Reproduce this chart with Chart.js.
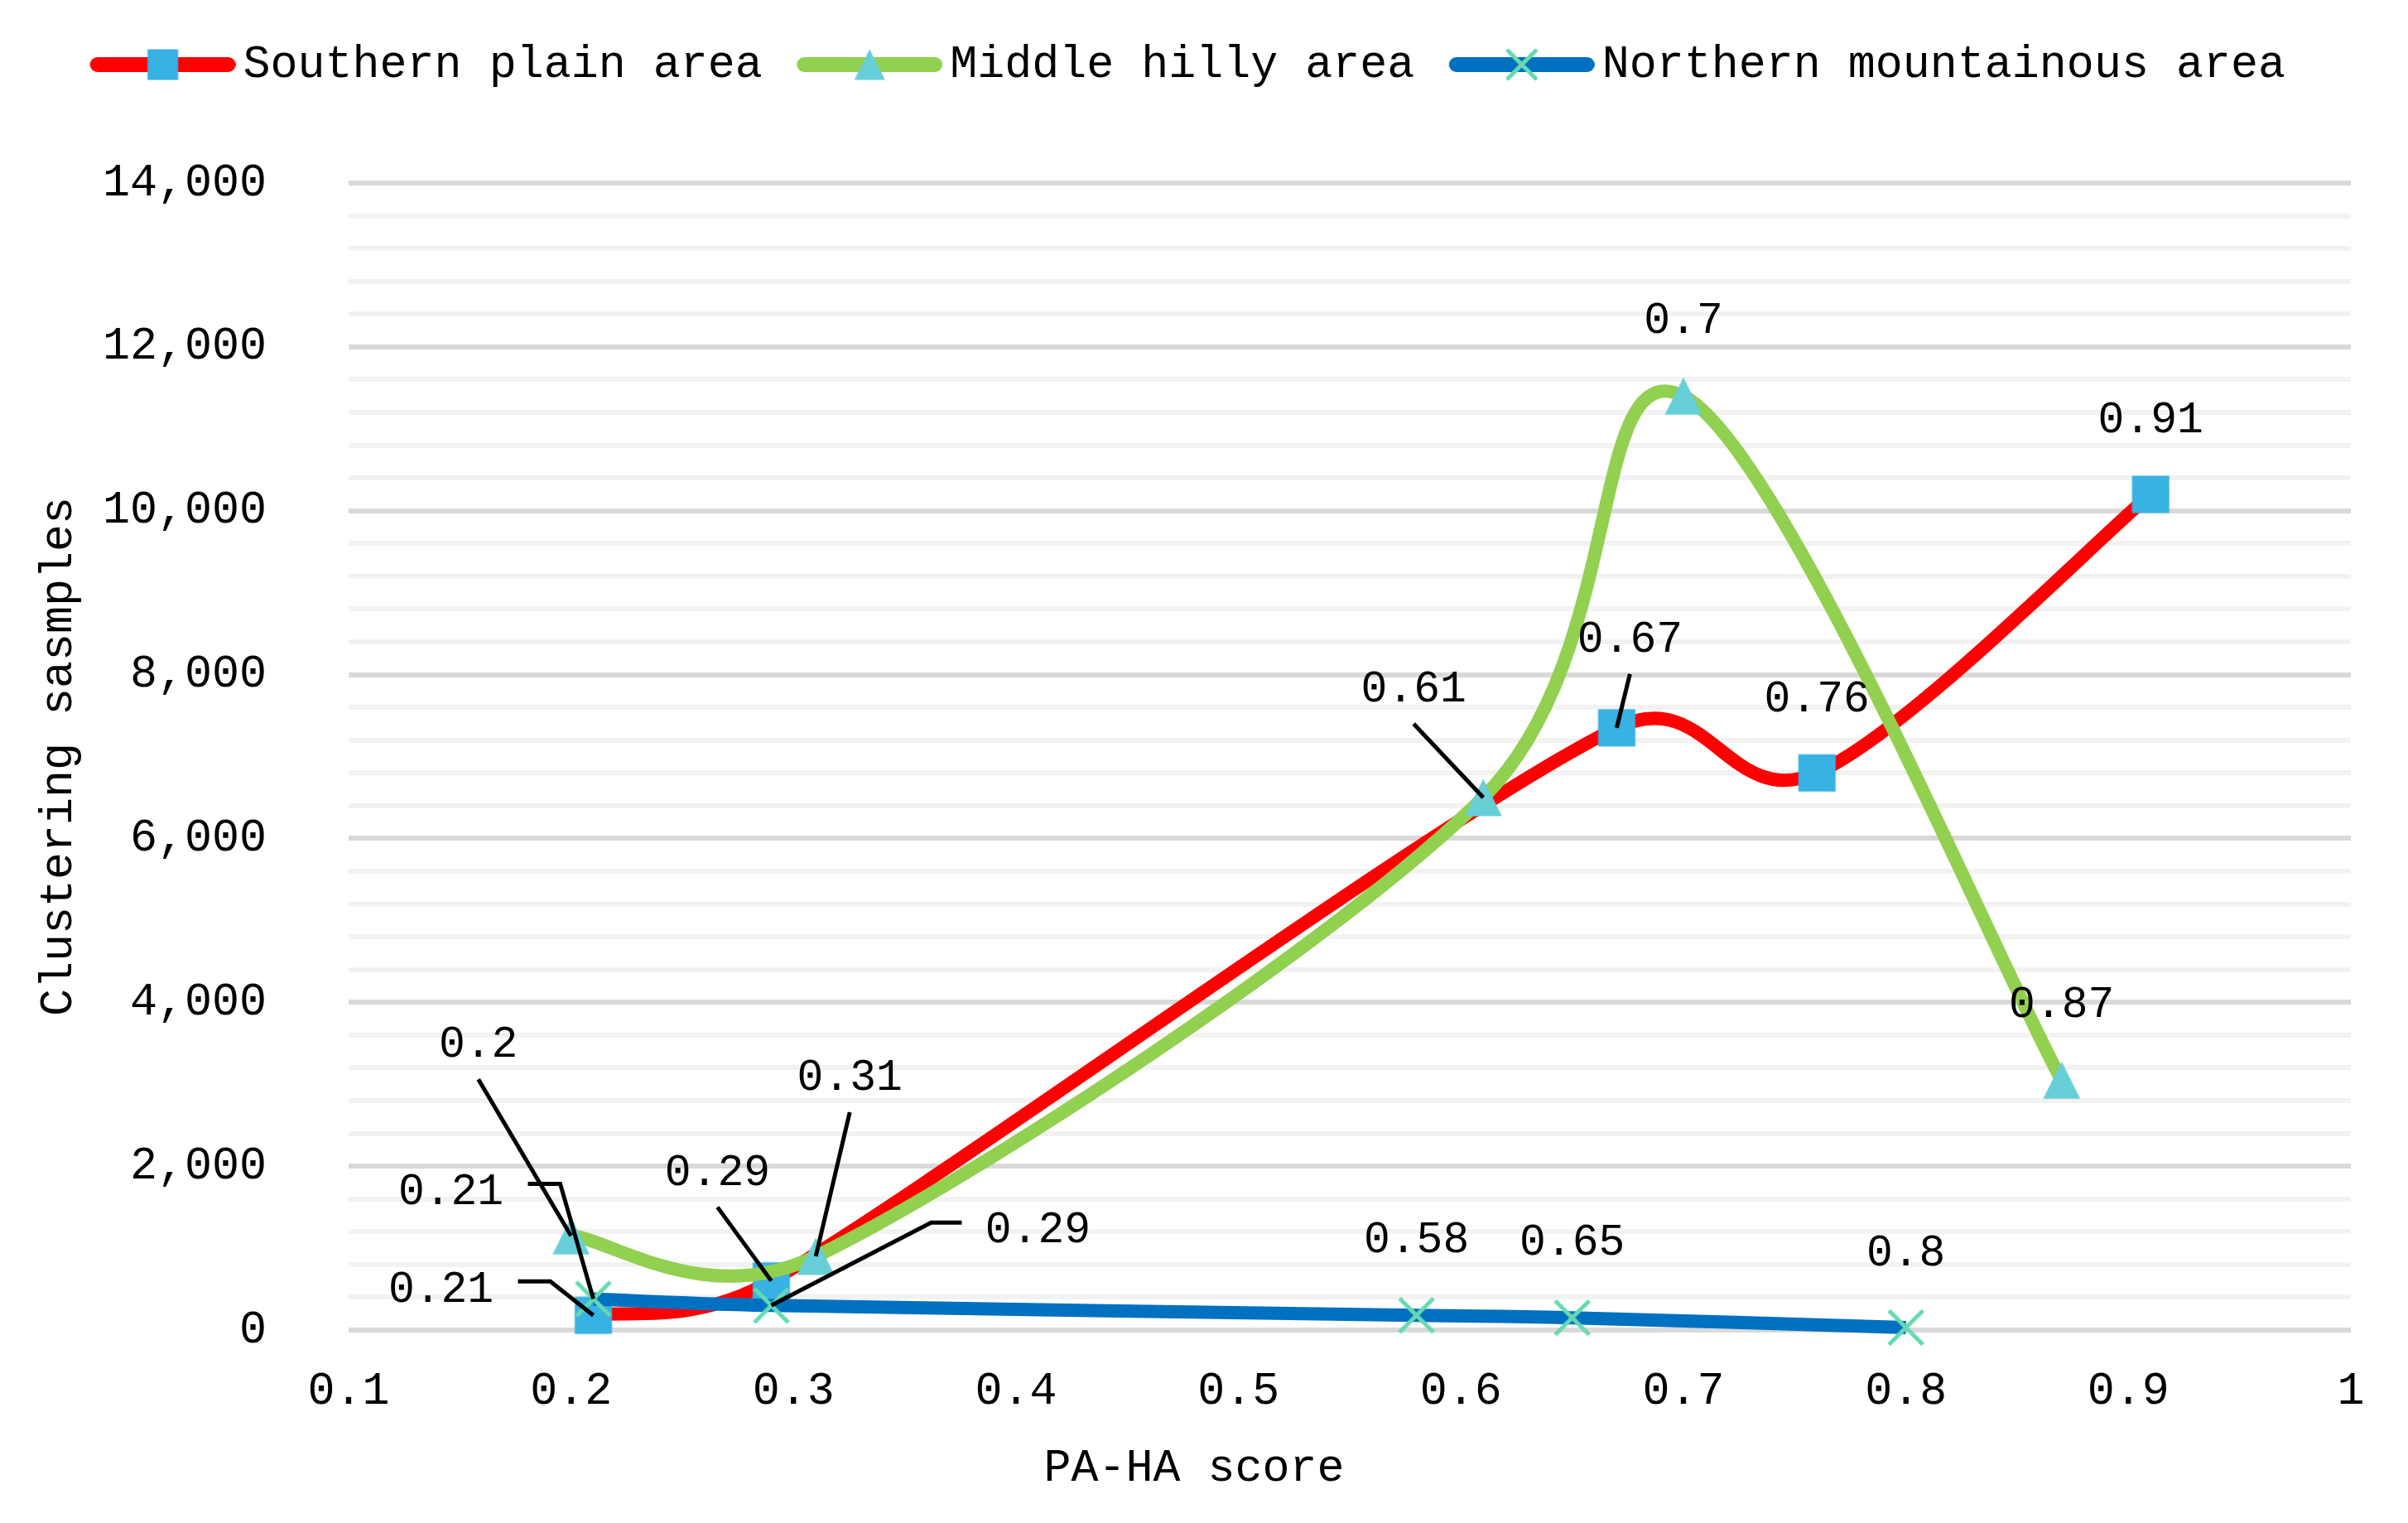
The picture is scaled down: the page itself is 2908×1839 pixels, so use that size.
<!DOCTYPE html>
<html lang="en">
<head>
<meta charset="UTF-8">
<title>PA-HA score vs clustering samples</title>
<script src="https://cdn.jsdelivr.net/npm/chart.js"></script>
<style>
  html, body { margin: 0; padding: 0; background: #fff; }
  #wrap { width: 2908px; height: 1839px; }
</style>
</head>
<body>
<div id="wrap"><canvas id="chart" width="2908" height="1839"></canvas></div>
<script>
  // data
  const seriesNames = ['Southern plain area', 'Middle hilly area', 'Northern mountainous area'];
  const southernX = [0.21, 0.29, 0.67, 0.76, 0.91];
  const southernY = [180, 600, 7350, 6800, 10200];
  const middleX = [0.2, 0.31, 0.61, 0.7, 0.87];
  const middleY = [1150, 900, 6500, 11400, 3050];
  const northernX = [0.21, 0.29, 0.58, 0.65, 0.8];
  const northernY = [380, 300, 180, 150, 30];

  const xTitle = 'PA-HA score';
  const yTitle = 'Clustering sasmples';

  // styles
  const FONT = "'Liberation Mono', 'DejaVu Sans Mono', monospace";
  const lineColors = ['#FF0000', '#92D050', '#0070C0'];
  const markerColors = ['#38B1E3', '#67CFD8', '#66D9B2'];
  const markerKinds = ['square', 'triangle', 'cross'];

  // where each value label sits relative to its point (px) and how its leader is drawn
  const southernLabelPos = [[-184, -33, 'right'], [-65, -133, 'down'], [16, -109, 'down'], [0, -91, ''], [0, -92, '']];
  const middleLabelPos = [[-112, -233, 'down'], [41, -218, 'down'], [-84, -133, 'down'], [0, -93, ''], [0, -93, '']];
  const northernLabelPos = [[-172, -131, 'right'], [322, -93, 'left'], [0, -93, ''], [0, -93, ''], [0, -92, '']];

  const seriesX = [southernX, middleX, northernX];
  const seriesY = [southernY, middleY, northernY];
  const labelPos = [southernLabelPos, middleLabelPos, northernLabelPos];

  function makeCanvas(w, h) {
    const c = document.createElement('canvas');
    c.width = w; c.height = h;
    return c;
  }

  function drawMarker(ctx, kind, cx, cy, size, color) {
    ctx.save();
    if (kind === 'square') {
      ctx.fillStyle = color;
      ctx.fillRect(cx - size / 2, cy - size / 2, size, size);
    } else if (kind === 'triangle') {
      ctx.fillStyle = color;
      ctx.beginPath();
      ctx.moveTo(cx, cy - size / 2);
      ctx.lineTo(cx + size / 2, cy + size / 2);
      ctx.lineTo(cx - size / 2, cy + size / 2);
      ctx.closePath();
      ctx.fill();
    } else {
      const h = size / 2 - 2;
      ctx.strokeStyle = color;
      ctx.lineWidth = 5;
      ctx.beginPath();
      ctx.moveTo(cx - h, cy - h); ctx.lineTo(cx + h, cy + h);
      ctx.moveTo(cx + h, cy - h); ctx.lineTo(cx - h, cy + h);
      ctx.stroke();
    }
    ctx.restore();
  }

  // point images for the plot
  const markerImages = markerKinds.map((k, i) => {
    const c = makeCanvas(48, 48);
    drawMarker(c.getContext('2d'), k, 24, 24, 45, markerColors[i]);
    return c;
  });

  // legend icons: line with the marker on it (left part left transparent for spacing)
  const legendIcons = markerKinds.map((k, i) => {
    const c = makeCanvas(224, 44);
    const ctx = c.getContext('2d');
    ctx.strokeStyle = lineColors[i];
    ctx.lineWidth = 18;
    ctx.lineCap = 'round';
    ctx.beginPath();
    ctx.moveTo(57, 22); ctx.lineTo(215, 22);
    ctx.stroke();
    drawMarker(ctx, k, 136, 22, 37, markerColors[i]);
    return c;
  });

  // Excel style smoothing: tangent (next - prev) / 6, arm at most half the segment
  const excelSmooth = {
    id: 'excelSmooth',
    beforeDatasetDraw(chart, args) {
      const line = args.meta.dataset;
      const pts = args.meta.data;
      if (!line || pts.length < 2) return;
      const n = pts.length;
      const dist = (a, b) => Math.hypot(b.x - a.x, b.y - a.y);
      for (let i = 0; i < n; i++) {
        const p = pts[i];
        const prev = pts[Math.max(i - 1, 0)];
        const next = pts[Math.min(i + 1, n - 1)];
        const tx = (next.x - prev.x) / 6, ty = (next.y - prev.y) / 6;
        const tl = Math.hypot(tx, ty) || 1;
        const fin = i > 0 ? Math.min(1, dist(prev, p) / 2 / tl) : 0;
        const fout = i < n - 1 ? Math.min(1, dist(p, next) / 2 / tl) : 0;
        p.cp1x = p.x - tx * fin; p.cp1y = p.y - ty * fin;
        p.cp2x = p.x + tx * fout; p.cp2y = p.y + ty * fout;
      }
      line.updateControlPoints = function () {};
      line._pointsUpdated = true;
      line._path = undefined;
    }
  };

  const valueLabels = {
    id: 'valueLabels',
    afterDatasetsDraw(chart) {
      const ctx = chart.ctx;
      ctx.save();
      ctx.font = '53px ' + FONT;
      ctx.fillStyle = '#000';
      ctx.strokeStyle = '#000';
      ctx.lineWidth = 5;
      ctx.textAlign = 'center';
      ctx.textBaseline = 'middle';
      seriesX.forEach((xs, i) => {
        const meta = chart.getDatasetMeta(i);
        xs.forEach((xv, j) => {
          const pt = meta.data[j];
          const [dx, dy, leader] = labelPos[i][j];
          const lx = pt.x + dx, ly = pt.y + dy;
          if (leader) {
            ctx.beginPath();
            if (leader === 'down') {
              ctx.moveTo(lx, ly + 44);
            } else if (leader === 'right') {
              ctx.moveTo(lx + 93, ly - 8); ctx.lineTo(lx + 132, ly - 8);
            } else {
              ctx.moveTo(lx - 92, ly - 7); ctx.lineTo(lx - 129, ly - 7);
            }
            ctx.lineTo(pt.x, pt.y);
            ctx.stroke();
          }
          ctx.fillText(String(xv), lx, ly + 3);
        });
      });
      // x axis title sits left of centre in the original
      ctx.font = '55px ' + FONT;
      const xs = chart.scales.x;
      ctx.fillText(xTitle, xs.getPixelForValue(0.48), chart.chartArea.bottom + 167);
      ctx.restore();
    }
  };

  Chart.defaults.font.family = FONT;
  Chart.defaults.font.size = 55;
  Chart.defaults.color = '#000';

  new Chart(document.getElementById('chart'), {
    type: 'scatter',
    data: {
      datasets: seriesNames.map((name, i) => ({
        label: name,
        data: seriesX[i].map((x, j) => ({ x: x, y: seriesY[i][j] })),
        showLine: true,
        tension: 0.5,
        borderColor: lineColors[i],
        backgroundColor: lineColors[i],
        borderWidth: 16,
        borderJoinStyle: 'round',
        pointStyle: markerImages[i],
        pointRadius: 22,
        pointHoverRadius: 22,
        order: 3 - i,
        clip: false
      }))
    },
    options: {
      responsive: false,
      devicePixelRatio: 1,
      animation: false,
      events: [],
      layout: { padding: { left: 0, right: 69, top: 38.5, bottom: 0 } },
      plugins: {
        tooltip: { enabled: false },
        legend: {
          position: 'top',
          labels: {
            usePointStyle: true,
            pointStyleWidth: 187,
            padding: 12,
            color: '#000',
            font: { size: 55 },
            sort: (a, b) => a.datasetIndex - b.datasetIndex,
            generateLabels(chart) {
              const items = Chart.defaults.plugins.legend.labels.generateLabels(chart);
              items.forEach(it => { it.pointStyle = legendIcons[it.datasetIndex]; });
              return items;
            }
          }
        }
      },
      scales: {
        x: {
          type: 'linear',
          position: 'bottom',
          min: 0.1,
          max: 1,
          grid: { display: false, drawTicks: false },
          border: { display: false },
          ticks: {
            stepSize: 0.1,
            padding: 41,
            color: '#000',
            font: { size: 55 },
            callback: v => String(Math.round(v * 10) / 10)
          },
          afterFit(s) { s.height = 233; }
        },
        xTop: {
          type: 'linear',
          position: 'top',
          min: 0,
          max: 1,
          grid: { display: false, drawTicks: false },
          border: { display: false },
          ticks: { display: false },
          afterFit(s) { s.height = 105.5; }
        },
        y: {
          min: 0,
          max: 14000,
          grid: {
            drawTicks: false,
            lineWidth: 6,
            color: c => (c.tick && c.tick.value % 2000 === 0) ? '#D9D9D9' : '#F2F2F2'
          },
          border: { display: false },
          ticks: {
            stepSize: 400,
            autoSkip: false,
            padding: 99,
            color: '#000',
            font: { size: 55 },
            callback: v => (v % 2000 === 0) ? v.toLocaleString('en-US') : ''
          },
          title: {
            display: true,
            text: yTitle,
            color: '#000',
            font: { size: 55 },
            padding: { top: 38, bottom: 0 }
          },
          afterFit(s) { s.width = 421; }
        }
      }
    },
    plugins: [excelSmooth, valueLabels]
  });
</script>
</body>
</html>
